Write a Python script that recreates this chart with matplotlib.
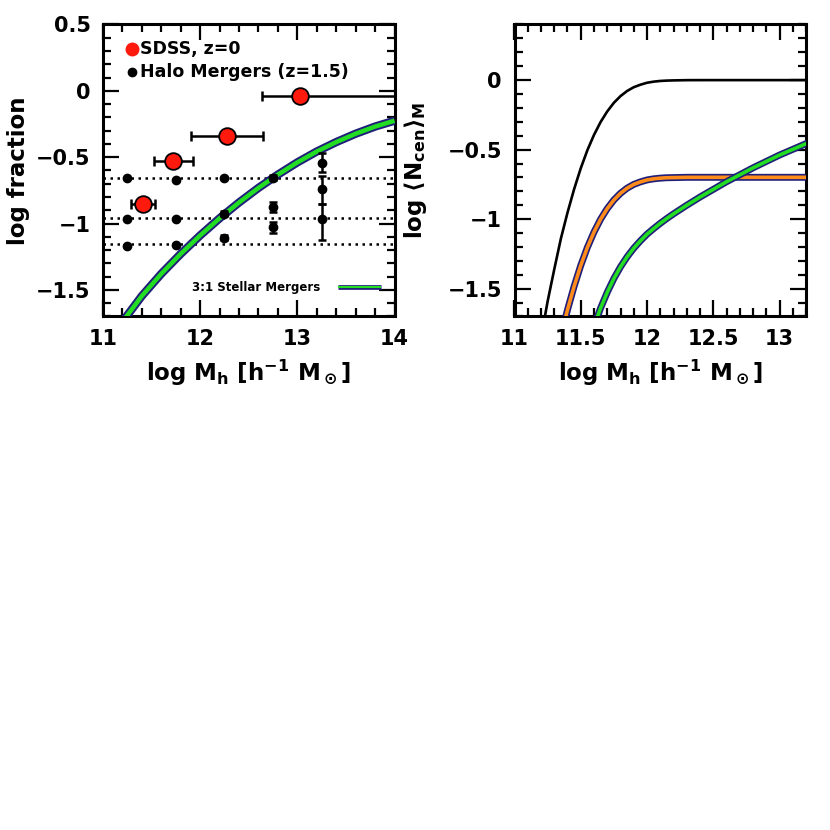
import matplotlib
matplotlib.use('Agg')
import matplotlib.pyplot as plt
from matplotlib.ticker import MultipleLocator, FixedLocator

plt.rcParams['font.family'] = ['DejaVu Sans']
plt.rcParams['font.weight'] = 'bold'
plt.rcParams['mathtext.default'] = 'bf'
plt.rcParams['mathtext.fontset'] = 'dejavusans'

# ---------------- data: left panel ----------------
sdss_x = [11.41, 11.72, 12.28, 13.03]
sdss_y = [-0.85, -0.53, -0.34, -0.04]
sdss_xerr_lo = [0.12, 0.19, 0.37, 0.39]
sdss_xerr_hi = [0.13, 0.21, 0.37, 1.00]

halo_x = [11.25, 11.25, 11.25,
          11.75, 11.75, 11.75,
          12.25, 12.25, 12.25,
          12.75, 12.75, 12.75,
          13.25, 13.25, 13.25]
halo_y = [-0.66, -0.965, -1.17,
          -0.675, -0.965, -1.16,
          -0.66, -0.925, -1.105,
          -0.655, -0.875, -1.025,
          -0.54, -0.74, -0.962]
halo_yerr_lo = [0, 0, 0,
                0, 0, 0,
                0, 0.02, 0.02,
                0.02, 0.035, 0.045,
                0.07, 0.11, 0.165]
halo_yerr_hi = [0, 0, 0,
                0, 0, 0,
                0, 0.02, 0.02,
                0.02, 0.035, 0.035,
                0.07, 0.10, 0.11]

dotted_levels = [-0.655, -0.96, -1.155]

stellar_x = [11.2, 11.4, 11.6, 11.8, 12.0, 12.2, 12.4, 12.6, 12.8,
             13.0, 13.2, 13.4, 13.6, 13.8, 14.0]
stellar_y = [-1.74, -1.545, -1.378, -1.228, -1.089, -0.960, -0.841, -0.731,
             -0.631, -0.539, -0.457, -0.386, -0.323, -0.269, -0.225]

# ---------------- data: right panel ----------------
ncen_x = [11.2, 11.25, 11.3, 11.35, 11.4, 11.45, 11.5, 11.55, 11.6, 11.65,
          11.7, 11.75, 11.8, 11.85, 11.9, 11.95, 12.0, 12.05, 12.1, 12.15,
          12.2, 12.3, 12.4, 12.6, 12.8, 13.0, 13.2]
ncen_all = [-1.854, -1.591, -1.361, -1.140, -0.953, -0.784, -0.634, -0.504,
            -0.394, -0.301, -0.225, -0.163, -0.115, -0.078, -0.051, -0.033,
            -0.019, -0.011, -0.006, -0.0034, -0.002, -0.0003, 0.0, 0.0, 0.0,
            0.0, 0.0]
ncen_orange = [-2.553, -2.290, -2.060, -1.839, -1.652, -1.483, -1.333, -1.203,
               -1.093, -1.000, -0.924, -0.862, -0.814, -0.777, -0.750, -0.732,
               -0.718, -0.710, -0.705, -0.702, -0.701, -0.699, -0.699, -0.699,
               -0.699, -0.699, -0.699]
ncen_green = [-3.550, -3.248, -2.976, -2.714, -2.486, -2.277, -2.087, -1.918,
              -1.770, -1.639, -1.526, -1.427, -1.343, -1.271, -1.209, -1.156,
              -1.108, -1.068, -1.030, -0.995, -0.962, -0.900, -0.841, -0.731,
              -0.631, -0.539, -0.457]

left_xticks = [11, 12, 13, 14]
left_yticks = [0.5, 0, -0.5, -1, -1.5]
right_xticks = [11, 11.5, 12, 12.5, 13]
right_yticks = [0, -0.5, -1, -1.5]

NAVY = '#1f1f7a'
GREEN = '#22dd22'
ORANGE = '#ff8c1a'

W = 830.0
fig = plt.figure(figsize=(8.3, 8.3), dpi=100)
axL = fig.add_axes([103 / W, 1 - 316.5 / W, 291.5 / W, 292 / W])
axR = fig.add_axes([514.5 / W, 1 - 316.5 / W, 291.5 / W, 292 / W])


def style_axes(ax, xminor, yminor):
    for s in ax.spines.values():
        s.set_linewidth(2.2)
    ax.xaxis.set_minor_locator(MultipleLocator(xminor))
    ax.yaxis.set_minor_locator(MultipleLocator(yminor))
    ax.tick_params(which='both', direction='in', top=True, right=True,
                   labelsize=15)
    ax.tick_params(which='major', length=11.5, width=1.6, pad=9)
    ax.tick_params(which='minor', length=5.5, width=1.6)
    for lab in ax.get_xticklabels() + ax.get_yticklabels():
        lab.set_fontweight('bold')


def fmt(v):
    s = ('%g' % v)
    return s.replace('-', '\u2212')


def set_labels(ax, xlabel, ylabel, ylab_x):
    ax.set_xlabel(xlabel, fontsize=16.5, fontweight='bold')
    ax.xaxis.label.set_va('center')
    ax.xaxis.set_label_coords(0.5, -0.192)
    ax.set_ylabel(ylabel, fontsize=16.5, fontweight='bold')
    ax.yaxis.label.set_va('center')
    ax.yaxis.set_label_coords(ylab_x, 0.5)


# ---------------- left panel ----------------
axL.set_xlim(11, 14)
axL.set_ylim(-1.7, 0.5)
axL.xaxis.set_major_locator(FixedLocator(left_xticks))
axL.yaxis.set_major_locator(FixedLocator(left_yticks))
axL.set_xticklabels([fmt(v) for v in left_xticks])
axL.set_yticklabels([fmt(v) for v in left_yticks])
style_axes(axL, 0.2, 0.1)

for lev in dotted_levels:
    axL.axhline(lev, color='black', lw=1.8, ls=(0, (1, 1.8)), zorder=1)

axL.plot(stellar_x, stellar_y, color=NAVY, lw=6.0, solid_capstyle='butt', zorder=3)
axL.plot(stellar_x, stellar_y, color=GREEN, lw=3.2, solid_capstyle='butt', zorder=4)

axL.errorbar(halo_x, halo_y, yerr=[halo_yerr_lo, halo_yerr_hi], fmt='o',
             color='black', ms=6, lw=1.8, capsize=3.0, capthick=1.8, zorder=5)

axL.errorbar(sdss_x, sdss_y, xerr=[sdss_xerr_lo, sdss_xerr_hi], fmt='none',
             ecolor='black', lw=1.8, capsize=3.5, capthick=1.8, zorder=6)
axL.plot(sdss_x, sdss_y, 'o', color='#ff1a0d', mec='black', mew=1.3, ms=12,
         zorder=7, ls='none')

# legend (top)
axL.plot([0.100], [0.916], 'o', color='#ff1a0d', ms=9, transform=axL.transAxes,
         clip_on=False, zorder=8)
axL.text(0.128, 0.916, 'SDSS, z=0', transform=axL.transAxes, fontsize=12.5,
         fontweight='bold', va='center', ha='left')
axL.plot([0.100], [0.837], 'o', color='black', ms=6, transform=axL.transAxes,
         clip_on=False, zorder=8)
axL.text(0.128, 0.837, 'Halo Mergers (z=1.5)', transform=axL.transAxes,
         fontsize=12.5, fontweight='bold', va='center', ha='left')

# legend (bottom)
axL.text(0.745, 0.101, '3:1 Stellar Mergers', transform=axL.transAxes,
         fontsize=8.5, fontweight='bold', va='center', ha='right')
axL.plot([0.805, 0.952], [0.101, 0.101], color=NAVY, lw=3.4,
         transform=axL.transAxes, solid_capstyle='butt')
axL.plot([0.805, 0.952], [0.101, 0.101], color=GREEN, lw=1.5,
         transform=axL.transAxes, solid_capstyle='butt')

set_labels(axL, r'log M$_h$ [h$^{-1}$ M$_\odot$]', 'log fraction', -0.29)

# ---------------- right panel ----------------
axR.set_xlim(11, 13.2)
axR.set_ylim(-1.7, 0.4)
axR.xaxis.set_major_locator(FixedLocator(right_xticks))
axR.yaxis.set_major_locator(FixedLocator(right_yticks))
axR.set_xticklabels([fmt(v) for v in right_xticks])
axR.set_yticklabels([fmt(v) for v in right_yticks])
style_axes(axR, 0.1, 0.1)

axR.plot(ncen_x, ncen_all, color='black', lw=1.9, zorder=3)
axR.plot(ncen_x, ncen_orange, color=NAVY, lw=5.0, zorder=3)
axR.plot(ncen_x, ncen_orange, color=ORANGE, lw=2.6, zorder=4)
axR.plot(ncen_x, ncen_green, color=NAVY, lw=5.0, zorder=5)
axR.plot(ncen_x, ncen_green, color=GREEN, lw=2.6, zorder=6)

set_labels(axR, r'log M$_h$ [h$^{-1}$ M$_\odot$]',
           r'log $\langle$N$_{cen}\rangle_M$', -0.34)

fig.savefig('out.png', dpi=100)
